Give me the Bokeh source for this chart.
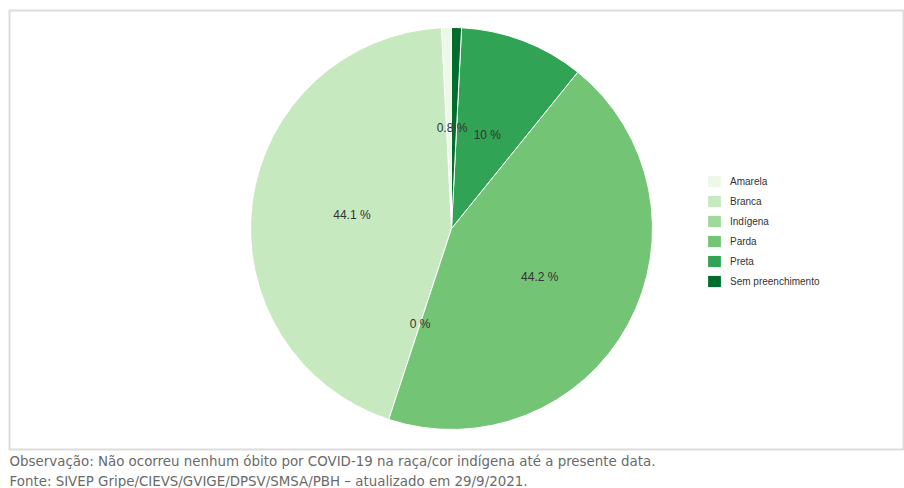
import numpy as np
from bokeh.plotting import figure
from bokeh.models import ColumnDataSource, Range1d, Legend, LegendItem, Title
from bokeh.core.properties import value
from bokeh.embed import file_html
from bokeh.resources import INLINE

# ---- data ----
categories = ["Amarela", "Branca", "Indígena", "Parda", "Preta", "Sem preenchimento"]
percentages = [0.8, 44.1, 0.0, 44.2, 10.0, 0.8]
label_texts = ["0.8 %", "44.1 %", "0 %", "44.2 %", "10 %", "0.8 %"]
colors = ["#edf8e9", "#c7e9c0", "#a1d99b", "#74c476", "#31a354", "#006d2c"]
note_line1 = "Observação: Não ocorreu nenhum óbito por COVID-19 na raça/cor indígena até a presente data."
note_line2 = "Fonte: SIVEP Gripe/CIEVS/GVIGE/DPSV/SMSA/PBH – atualizado em 29/9/2021."

# ---- layout ----
W, H = 904, 488
left_b, top_b, bottom_b, right_b = 9, 10, 39, 0
frame_w = W - left_b - right_b
frame_h = H - top_b - bottom_b
cx_px, cy_px = 451, 228          # pie centre in page pixels
R_px = 201.0                     # pie radius in pixels

# data units: 1 unit = R_px pixels, centre at (0, 0)
x0 = -(cx_px - left_b) / R_px
x1 = x0 + frame_w / R_px
y1 = (cy_px - top_b) / R_px
y0 = y1 - frame_h / R_px

vals = np.array(percentages, dtype=float)
frac = vals / vals.sum()
cum_end = np.cumsum(frac)
cum_start = cum_end - frac
start = np.pi / 2 + cum_start * 2 * np.pi
end = np.pi / 2 + cum_end * 2 * np.pi
mid = (start + end) / 2
lx = 0.5 * np.cos(mid)
ly = 0.5 * np.sin(mid)

src_all = ColumnDataSource(dict(cat=categories, start=start, end=end, color=colors,
                                lx=lx, ly=ly, txt=label_texts))
nz = vals > 0
src_pie = ColumnDataSource(dict(start=start[nz], end=end[nz],
                                color=[c for c, k in zip(colors, nz) if k]))

# labels: the two tiny neighbouring slices at the top share one (overlapping) label spot
show = np.array([True, True, True, True, True, False])
shift = np.where(np.array(categories)[show] == "Amarela", 0.015, 0.0)
src_lab = ColumnDataSource(dict(lx=lx[show] + shift, ly=ly[show],
                                txt=[t for t, k in zip(label_texts, show) if k]))

p = figure(width=W, height=H, output_backend="svg", toolbar_location=None,
           x_range=Range1d(x0, x1), y_range=Range1d(y0, y1),
           min_border_left=left_b, min_border_top=top_b,
           min_border_bottom=bottom_b, min_border_right=right_b)
p.axis.visible = False
p.grid.visible = False
p.outline_line_color = "#dcdcdc"
p.outline_line_width = 2
p.background_fill_color = "white"
p.border_fill_color = "white"

# pie slices (non-empty ones)
p.wedge(x=0, y=0, radius=1.0, start_angle="start", end_angle="end",
        fill_color="color", line_color="white", line_width=1, source=src_pie)

# zero-radius wedges, one per category, used only to draw the legend swatches
r_leg = p.wedge(x=0, y=0, radius=0.0, start_angle="start", end_angle="start",
                fill_color="color", line_color=None, source=src_all)

p.text(x="lx", y="ly", text="txt", source=src_lab, text_align="center",
       text_baseline="middle", text_font=value("Liberation Sans"),
       text_font_size="12px", text_color="#333333")

items = [LegendItem(label=c, renderers=[r_leg], index=i) for i, c in enumerate(categories)]
legend = Legend(items=items, location=(697, 161), orientation="vertical",
                glyph_width=16, glyph_height=14, label_height=14, spacing=6,
                label_standoff=8, padding=0, margin=0,
                border_line_color=None, background_fill_alpha=0,
                label_text_font="Liberation Sans", label_text_font_size="10px",
                label_text_color="#333333")
p.add_layout(legend, "center")

t1 = Title(text=note_line1, align="left", text_font="DejaVu Sans", text_font_size="13.4px",
           text_font_style="normal", text_color="#6a6a6a", standoff=5)
t2 = Title(text=note_line2, align="left", text_font="DejaVu Sans", text_font_size="13.4px",
           text_font_style="normal", text_color="#6a6a6a", standoff=0)
p.add_layout(t1, "below")
p.add_layout(t2, "below")

open("out.html", "w").write(file_html(p, INLINE))
